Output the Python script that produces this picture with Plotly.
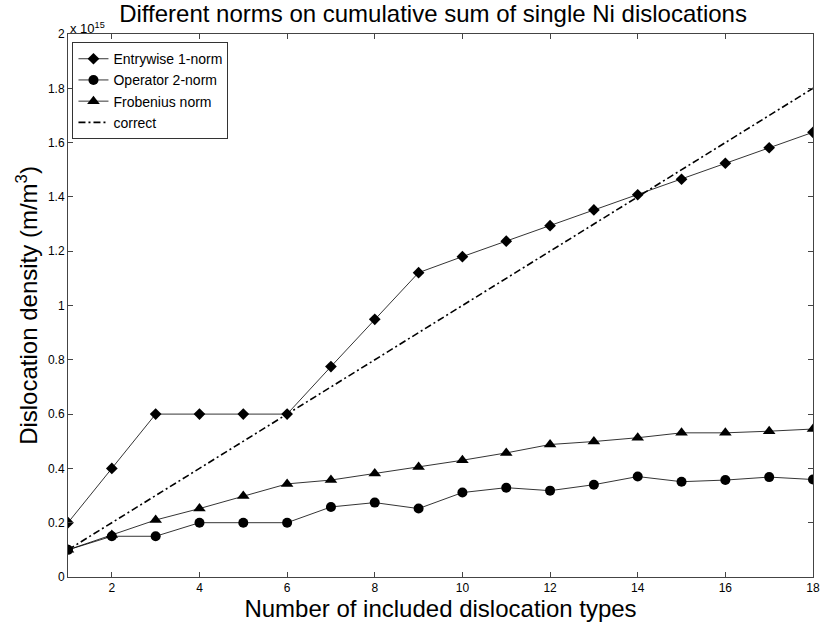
import plotly.graph_objects as go

# Number of included dislocation types
n_types = [1, 2, 3, 4, 5, 6, 7, 8, 9, 10, 11, 12, 13, 14, 15, 16, 17, 18]

# Dislocation density, in units of 1e15 m/m^3
entrywise_1 = [0.2, 0.4, 0.6, 0.6, 0.6, 0.6, 0.775, 0.949, 1.121, 1.18, 1.237, 1.294,
               1.352, 1.408, 1.465, 1.524, 1.581, 1.638]
operator_2 = [0.1, 0.15, 0.15, 0.2, 0.2, 0.2, 0.258, 0.274, 0.252, 0.311, 0.329, 0.318,
              0.34, 0.37, 0.351, 0.357, 0.368, 0.359]
frobenius = [0.1, 0.155, 0.21, 0.252, 0.298, 0.343, 0.357, 0.381, 0.405, 0.43, 0.457, 0.488,
             0.499, 0.513, 0.531, 0.531, 0.537, 0.545]
correct = [0.1, 0.2, 0.3, 0.4, 0.5, 0.6, 0.7, 0.8, 0.9, 1.0, 1.1, 1.2, 1.3, 1.4, 1.5,
           1.6, 1.7, 1.8]

x_ticks = [2, 4, 6, 8, 10, 12, 14, 16, 18]
y_ticks = [0, 0.2, 0.4, 0.6, 0.8, 1, 1.2, 1.4, 1.6, 1.8, 2]
y_tick_text = ["0", "0.2", "0.4", "0.6", "0.8", "1", "1.2", "1.4", "1.6", "1.8", "2"]

FONT = "Liberation Sans, Arial, Helvetica, sans-serif"

fig = go.Figure()
fig.add_trace(go.Scatter(
    x=n_types, y=entrywise_1, name="Entrywise 1-norm", mode="lines+markers",
    line=dict(color="black", width=0.8),
    marker=dict(symbol="diamond", size=9, color="black")))
fig.add_trace(go.Scatter(
    x=n_types, y=operator_2, name="Operator 2-norm", mode="lines+markers",
    line=dict(color="black", width=0.8),
    marker=dict(symbol="circle", size=10, color="black")))
fig.add_trace(go.Scatter(
    x=n_types, y=frobenius, name="Frobenius norm", mode="lines+markers",
    line=dict(color="black", width=0.8),
    marker=dict(symbol="triangle-up", size=11, color="black")))
fig.add_trace(go.Scatter(
    x=n_types, y=correct, name="correct", mode="lines",
    line=dict(color="black", width=1.6, dash="7px,3px,2px,3px")))

axis_common = dict(
    showgrid=False, zeroline=False, showline=True, linecolor="#444",
    linewidth=1, mirror="ticks", ticks="inside", ticklen=5, tickcolor="#444",
    automargin=False,
    tickfont=dict(family=FONT, size=12, color="black"),
)

fig.update_layout(
    width=820, height=624,
    margin=dict(l=68, r=7, t=34, b=47),
    paper_bgcolor="white", plot_bgcolor="white",
    font=dict(family=FONT, color="black"),
    title=dict(text="Different norms on cumulative sum of single Ni dislocations",
               xref="paper", x=0.49, xanchor="center",
               yref="container", y=0.978, yanchor="middle",
               font=dict(family=FONT, size=24, color="black")),
    xaxis=dict(range=[1, 18], tickvals=x_ticks,
               title=dict(text="Number of included dislocation types", standoff=2,
                          font=dict(family=FONT, size=24, color="black")),
               **axis_common),
    yaxis=dict(range=[0, 2], tickvals=y_ticks, ticktext=y_tick_text,
               title=dict(text="Dislocation density (m/m<sup>3</sup>)", standoff=3,
                          font=dict(family=FONT, size=24, color="black")),
               **axis_common),
    legend=dict(x=0.006, y=0.985, xanchor="left", yanchor="top",
                bgcolor="white", bordercolor="#333", borderwidth=1,
                font=dict(family=FONT, size=14, color="black"),
                tracegroupgap=0, itemwidth=30),
    showlegend=True,
)

fig.add_annotation(text="x 10<sup>15</sup>", xref="paper", yref="paper",
                   x=0.0, y=1.0, xanchor="left", yanchor="bottom", showarrow=False,
                   font=dict(family=FONT, size=13, color="black"), yshift=-4)

fig.write_html("out.html")
